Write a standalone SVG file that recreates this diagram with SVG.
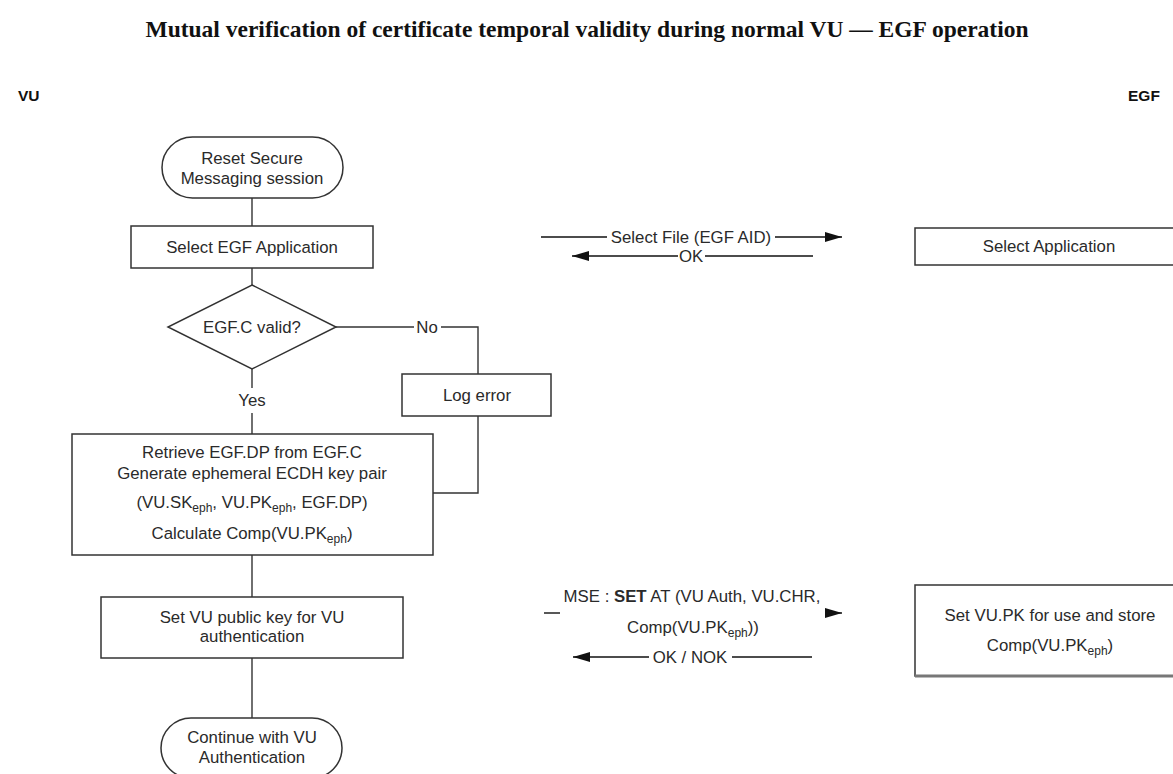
<svg xmlns="http://www.w3.org/2000/svg" width="1173" height="774" viewBox="0 0 1173 774">
<defs>
<marker id="arr" markerUnits="userSpaceOnUse" markerWidth="18" markerHeight="12" refX="17" refY="5" orient="auto">
<path d="M0,0 L17,5 L0,10 z" fill="#111"/>
</marker>
<style>
.t{font-family:"Liberation Sans",Arial,sans-serif;font-size:16.8px;fill:#2a2a2a;text-anchor:middle}
.s{font-size:12px}
.box{fill:#fff;stroke:#333;stroke-width:1.5}
.ln{fill:none;stroke:#333;stroke-width:1.4}
.msg{fill:none;stroke:#111;stroke-width:1.4}
.lane{font-family:"Liberation Sans",Arial,sans-serif;font-size:15.5px;font-weight:bold;fill:#111}
.title{font-family:"Liberation Serif","Times New Roman",serif;font-size:23.5px;font-weight:bold;fill:#111;text-anchor:middle}
</style>
</defs>
<rect width="1173" height="774" fill="#fff"/>
<text class="title" x="587" y="37">Mutual verification of certificate temporal validity during normal VU — EGF operation</text>
<text class="lane" x="18" y="101">VU</text>
<text class="lane" x="1128" y="101">EGF</text>

<g id="connectors">
<line class="ln" x1="252" y1="198" x2="252" y2="226"/>
<line class="ln" x1="252" y1="268" x2="252" y2="285"/>
<line class="ln" x1="252" y1="369" x2="252" y2="388"/>
<line class="ln" x1="252" y1="413" x2="252" y2="434"/>
<polyline class="ln" points="336,327 414,327"/>
<polyline class="ln" points="441,327 478,327 478,374"/>
<polyline class="ln" points="478,416 478,493 433,493"/>
<line class="ln" x1="252" y1="555" x2="252" y2="597"/>
<line class="ln" x1="252" y1="658" x2="252" y2="718"/>
<line class="msg" x1="541" y1="237" x2="607" y2="237"/>
<line class="msg" x1="775" y1="237" x2="842" y2="237" marker-end="url(#arr)"/>
<line class="msg" x1="813" y1="256" x2="705" y2="256"/>
<line class="msg" x1="678" y1="256" x2="572" y2="256" marker-end="url(#arr)"/>
<line class="msg" x1="544" y1="613" x2="560" y2="613"/>
<line class="msg" x1="826" y1="613" x2="842" y2="613" marker-end="url(#arr)"/>
<line class="msg" x1="812" y1="657" x2="732" y2="657"/>
<line class="msg" x1="649" y1="657" x2="573" y2="657" marker-end="url(#arr)"/>
<text class="t" x="691" y="243">Select File (EGF AID)</text>
<text class="t" x="691" y="262">OK</text>
<text class="t" x="427" y="333">No</text>
<text class="t" x="252" y="406">Yes</text>
<text class="t" x="692" y="602">MSE : <tspan font-weight="bold">SET</tspan> AT (VU Auth, VU.CHR,</text>
<text class="t" x="693" y="633">Comp(VU.PK<tspan class="s" dy="4">eph</tspan><tspan dy="-4">))</tspan></text>
<text class="t" x="690" y="663">OK / NOK</text>
</g>

<g id="reset">
<rect class="box" x="162" y="137" width="181" height="61" rx="30.5" ry="30.5"/>
<text class="t" x="252" y="164">Reset Secure</text>
<text class="t" x="252" y="184">Messaging session</text>
</g>
<g id="select-egf">
<rect class="box" x="131" y="226" width="242" height="42"/>
<text class="t" x="252" y="253">Select EGF Application</text>
</g>
<g id="valid">
<polygon class="box" points="252,285 336,327 252,369 168,327"/>
<text class="t" x="252" y="333">EGF.C valid?</text>
</g>
<g id="log-error">
<rect class="box" x="402" y="374" width="149" height="42"/>
<text class="t" x="477" y="401">Log error</text>
</g>
<g id="retrieve">
<rect class="box" x="72" y="434" width="361" height="121"/>
<text class="t" x="252" y="458">Retrieve EGF.DP from EGF.C</text>
<text class="t" x="252" y="479">Generate ephemeral ECDH key pair</text>
<text class="t" x="252" y="508">(VU.SK<tspan class="s" dy="4">eph</tspan><tspan dy="-4">, VU.PK</tspan><tspan class="s" dy="4">eph</tspan><tspan dy="-4">, EGF.DP)</tspan></text>
<text class="t" x="252" y="539">Calculate Comp(VU.PK<tspan class="s" dy="4">eph</tspan><tspan dy="-4">)</tspan></text>
</g>
<g id="set-vu-key">
<rect class="box" x="101" y="597" width="302" height="61"/>
<text class="t" x="252" y="623">Set VU public key for VU</text>
<text class="t" x="252" y="642">authentication</text>
</g>
<g id="continue">
<rect class="box" x="161" y="718" width="181" height="60" rx="30" ry="30"/>
<text class="t" x="252" y="743">Continue with VU</text>
<text class="t" x="252" y="763">Authentication</text>
</g>
<g id="select-app">
<rect class="box" x="915" y="228" width="270" height="37"/>
<text class="t" x="1049" y="252">Select Application</text>
</g>
<g id="set-vupk">
<rect class="box" x="915" y="585" width="270" height="91"/>
<line x1="915" y1="676" x2="1173" y2="676" stroke="#777" stroke-width="3"/>
<text class="t" x="1050" y="621">Set VU.PK for use and store</text>
<text class="t" x="1050" y="651">Comp(VU.PK<tspan class="s" dy="4">eph</tspan><tspan dy="-4">)</tspan></text>
</g>
</svg>
